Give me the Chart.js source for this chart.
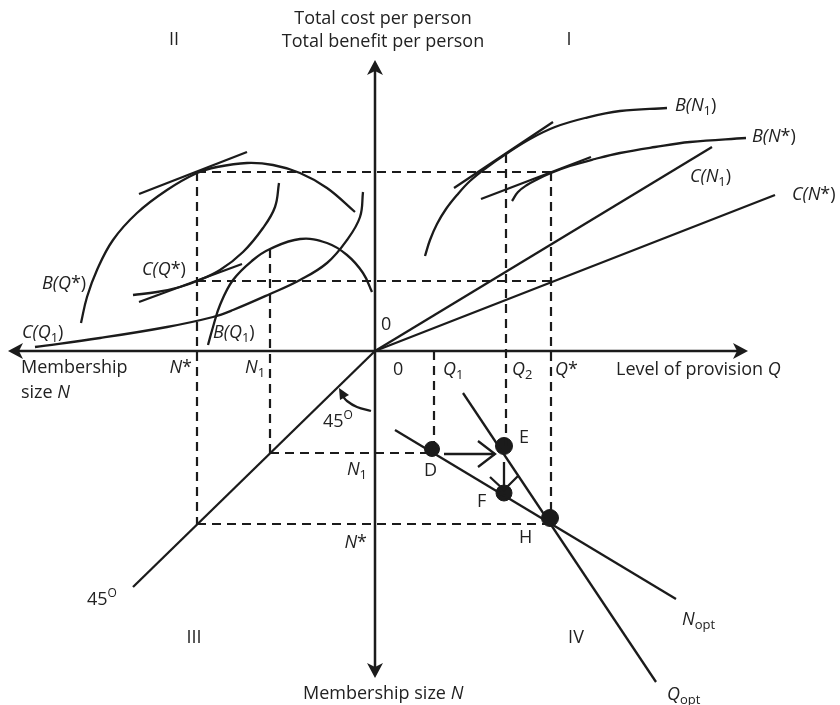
<!DOCTYPE html>
<html>
<head>
<meta charset="utf-8">
<script src="https://cdn.jsdelivr.net/npm/chart.js@4/dist/chart.umd.min.js"></script>
<style>
  html, body { margin: 0; padding: 0; background: #ffffff; }
  #wrap { width: 840px; height: 705px; }
</style>
</head>
<body>
<div id="wrap"><canvas id="club" width="840" height="705"></canvas></div>
<script>
// Four-quadrant club-good diagram (diagram units, origin where the axes cross).
// Quadrant I:  level of provision Q (right) vs total cost / benefit per person (up)
// Quadrant II: membership size N (left) vs total cost / benefit per person (up)
// Quadrant III: 45-degree line carrying N down to the lower vertical axis
// Quadrant IV: level of provision Q (right) vs membership size N (down)

// Reference levels on the axes
const qTicks = { Q1: 59, Q2: 131, Qstar: 176 };
const nTicks = { N1: 105, Nstar: 178 };
const nDownTicks = { N1: 102, Nstar: 173 };
const benefitLevel = 179;   // total benefit per person at the optimum
const costLevel = 70;       // total cost per person at the optimum

// Quadrant I: benefit curves B(N) against Q
const benefitN1 = [[50,95],[55,111],[62,127],[71,142],[82,156],[95,170],[111,183],[131,197],[155,212],[180,224],[210,233],[245,240],[292,243]];
const benefitNstar = [[137,150],[143,159],[152,166],[163,172],[176,178],[195,185],[220,192],[245,198],[280,204],[315,209],[371,213]];
const tangentN1 = [[79,163],[178,229]];
const tangentNstar = [[106,152],[216,194]];
// Quadrant I: cost lines C(N) against Q
const costN1 = [[0,0],[337,204]];
const costNstar = [[0,0],[400,156]];

// Quadrant II: benefit and cost curves against membership size (N runs left)
const benefitQstar = [[-294,28],[-288,54],[-278,81],[-262,111],[-238,138],[-208,161],[-178,178],[-158,184],[-128,188],[-102,186],[-75,178],[-48,163],[-20,139]];
const tangentBQstar = [[-236,157],[-128,199]];
const costQstar = [[-242,56],[-218,59],[-195,64],[-178,70],[-155,81],[-132,99],[-112,123],[-100,144],[-96,168]];
const tangentCQstar = [[-236,49],[-133,87]];
const costQ1 = [[-340,4],[-275,13],[-208,24],[-162,34],[-142,41],[-105,57],[-75,71],[-48,88],[-28,111],[-15,134],[-12,159]];
const benefitQ1 = [[-167,6],[-162,24],[-155,46],[-142,71],[-122,91],[-105,102],[-75,112],[-48,108],[-28,96],[-12,78],[-3,59]];

// Quadrant III: 45-degree transfer line
const line45 = [[0,0],[-242,-236]];

// Quadrant IV: optimal-membership and optimal-provision schedules
const nOpt = [[20,-79],[301,-248]];
const qOpt = [[88,-42],[281,-331]];

// Adjustment path D -> E -> F -> H
const pathLabels = ['D','E','F','H'];
const pathPoints = [[57,-98],[129,-95],[129,-142],[175,-167]];
const pathDotSize = [7.5, 8.5, 8, 8.5];

// Axis extents
const xAxis = [[-360,0],[366,0]];
const yAxis = [[0,284],[0,-320]];

const INK = '#1b1b1b';
const toXY = a => a.map(p => ({ x: p[0], y: p[1] }));

function solid(data, width, tension) {
  return { data: toXY(data), showLine: true, borderColor: INK, borderWidth: width || 2.3,
           pointRadius: 0, tension: tension || 0, fill: false };
}
function dashed(data) {
  return { data: toXY(data), showLine: true, borderColor: INK, borderWidth: 2.2,
           borderDash: [9, 6], pointRadius: 0, tension: 0, fill: false };
}

const Q1 = qTicks.Q1, Q2 = qTicks.Q2, QS = qTicks.Qstar;
const N1 = nTicks.N1, NS = nTicks.Nstar;
const D1 = nDownTicks.N1, DS = nDownTicks.Nstar;
const [pD, pE, pF, pH] = pathPoints;

const datasets = [
  // axes
  solid(xAxis, 2.5), solid(yAxis, 2.5),
  // guide lines
  dashed([[-NS, benefitLevel],[QS, benefitLevel]]),
  dashed([[-NS, costLevel],[QS, costLevel]]),
  dashed([[-NS, benefitLevel],[-NS, -DS]]),
  dashed([[-NS, -DS],[pH[0], -DS]]),
  dashed([[QS, benefitLevel],[QS, pH[1]]]),
  dashed([[-N1, 102],[-N1, -D1]]),
  dashed([[-N1, -D1],[pD[0], -D1]]),
  dashed([[Q1, 0],[Q1, pD[1]]]),
  dashed([[Q2, 197],[Q2, pE[1]]]),
  // quadrant I
  solid(benefitN1, 2.3, 0.4), solid(benefitNstar, 2.3, 0.4),
  solid(tangentN1), solid(tangentNstar),
  solid(costN1), solid(costNstar),
  // quadrant II
  solid(benefitQstar, 2.3, 0.4), solid(tangentBQstar),
  solid(costQstar, 2.3, 0.4), solid(tangentCQstar),
  solid(costQ1, 2.3, 0.4), solid(benefitQ1, 2.3, 0.4),
  // quadrant III
  solid(line45),
  // quadrant IV
  solid(nOpt), solid(qOpt),
  // adjustment arrows
  solid([[pD[0]+12, -103],[pE[0]-9, -103]]),
  solid([[pE[0]-26, -90],[pE[0]-9, -103],[pE[0]-26, -116]]),
  solid([[pE[0], pE[1]-16],[pE[0], pF[1]+3]]),
  solid([[pE[0]-14, -126],[pE[0], pF[1]+3],[pE[0]+14, -125]]),
  // curved 45-degree marker
  solid([[-4,-60],[-18,-56],[-28,-50],[-33,-44]], 2.3, 0.4),
  // points on the adjustment path
  { data: toXY(pathPoints), showLine: false,
    pointRadius: c => pathDotSize[c.dataIndex], pointHoverRadius: c => pathDotSize[c.dataIndex],
    pointStyle: 'circle', pointBackgroundColor: INK, pointBorderColor: INK, pointBorderWidth: 1 }
];

// Text annotations: position in diagram units, alignment, rich text parts
const FAMILY = '"Open Sans", Lato, sans-serif';
const it = t => ({ t, i: true });
const up = t => ({ t });
const sub = t => ({ t, sub: true });
const sup = t => ({ t, sup: true });
const annotations = [
  { x: 8, y: 332, a: 'center', p: [up('Total cost per person')] },
  { x: 8, y: 309, a: 'center', p: [up('Total benefit per person')] },
  { x: -201, y: 311, a: 'center', p: [up('II')] },
  { x: 194, y: 311, a: 'center', p: [up('I')] },
  { x: -181, y: -287, a: 'center', p: [up('III')] },
  { x: 201, y: -287, a: 'center', p: [up('IV')] },
  { x: 300, y: 245, a: 'left', p: [it('B(N'), sub('1'), up(')')] },
  { x: 377, y: 214, a: 'left', p: [it('B(N'), up('*)')] },
  { x: 315, y: 174, a: 'left', p: [it('C(N'), sub('1'), up(')')] },
  { x: 417, y: 156, a: 'left', p: [it('C(N'), up('*)')] },
  { x: -333, y: 67, a: 'left', p: [it('B(Q'), up('*)')] },
  { x: -233, y: 81, a: 'left', p: [it('C(Q'), up('*)')] },
  { x: -353, y: 18, a: 'left', p: [it('C(Q'), sub('1'), up(')')] },
  { x: -162, y: 18, a: 'left', p: [it('B(Q'), sub('1'), up(')')] },
  { x: 6, y: 26, a: 'left', p: [up('0')] },
  { x: 18, y: -19, a: 'left', p: [up('0')] },
  { x: -354, y: -17, a: 'left', p: [up('Membership')] },
  { x: -354, y: -42, a: 'left', p: [up('size '), it('N')] },
  { x: -183, y: -17, a: 'right', p: [it('N'), up('*')] },
  { x: -130, y: -17, a: 'left', p: [it('N'), sub('1')] },
  { x: 68, y: -19, a: 'left', p: [it('Q'), sub('1')] },
  { x: 137, y: -19, a: 'left', p: [it('Q'), sub('2')] },
  { x: 180, y: -19, a: 'left', p: [it('Q'), up('*')] },
  { x: 241, y: -19, a: 'left', p: [up('Level of provision '), it('Q')] },
  { x: -52, y: -71, a: 'left', p: [up('45'), sup('O')] },
  { x: -288, y: -249, a: 'left', p: [up('45'), sup('O')] },
  { x: 49, y: -120, a: 'left', p: [up(pathLabels[0])] },
  { x: 144, y: -87, a: 'left', p: [up(pathLabels[1])] },
  { x: 102, y: -151, a: 'left', p: [up(pathLabels[2])] },
  { x: 144, y: -187, a: 'left', p: [up(pathLabels[3])] },
  { x: -8, y: -119, a: 'right', p: [it('N'), sub('1')] },
  { x: -8, y: -192, a: 'right', p: [it('N'), up('*')] },
  { x: 307, y: -269, a: 'left', p: [it('N'), sub('opt')] },
  { x: 292, y: -344, a: 'left', p: [it('Q'), sub('opt')] },
  { x: -72, y: -343, a: 'left', p: [up('Membership size '), it('N')] }
];

function fontFor(part) {
  const size = part.sub ? 13 : part.sup ? 12 : 18;
  return (part.i ? 'italic ' : '') + size + 'px ' + FAMILY;
}

const decorations = {
  id: 'decorations',
  afterDatasetsDraw(chart) {
    const ctx = chart.ctx;
    const sx = chart.scales.x, sy = chart.scales.y;
    const px = v => sx.getPixelForValue(v), py = v => sy.getPixelForValue(v);
    ctx.save();
    ctx.fillStyle = INK;

    // notched arrowheads at the axis ends
    function head(tx, ty, dx, dy) {
      const L = 15, W = 8, notch = 4;
      const nx = -dy, ny = dx;
      ctx.beginPath();
      ctx.moveTo(tx, ty);
      ctx.lineTo(tx - dx * L + nx * W, ty - dy * L + ny * W);
      ctx.lineTo(tx - dx * (L - notch), ty - dy * (L - notch));
      ctx.lineTo(tx - dx * L - nx * W, ty - dy * L - ny * W);
      ctx.closePath();
      ctx.fill();
    }
    head(px(373), py(0), 1, 0);
    head(px(-367), py(0), -1, 0);
    head(px(0), py(291), 0, -1);
    head(px(0), py(-327), 0, 1);

    // solid head on the curved 45-degree marker
    ctx.beginPath();
    ctx.moveTo(px(-36), py(-37));
    ctx.lineTo(px(-26), py(-44));
    ctx.lineTo(px(-35), py(-49));
    ctx.closePath();
    ctx.fill();

    // labels
    ctx.fillStyle = '#222222';
    ctx.textBaseline = 'middle';
    annotations.forEach(an => {
      let w = 0;
      an.p.forEach(part => { ctx.font = fontFor(part); w += ctx.measureText(part.t).width; });
      let cx = px(an.x);
      if (an.a === 'center') cx -= w / 2;
      else if (an.a === 'right') cx -= w;
      const cy = py(an.y);
      an.p.forEach(part => {
        ctx.font = fontFor(part);
        const dy = part.sub ? 5 : part.sup ? -6 : 0;
        ctx.textAlign = 'left';
        ctx.fillText(part.t, cx, cy + dy);
        cx += ctx.measureText(part.t).width;
      });
    });
    ctx.restore();
  }
};

new Chart(document.getElementById('club'), {
  type: 'scatter',
  data: { datasets },
  options: {
    responsive: false,
    animation: false,
    devicePixelRatio: 1,
    layout: { padding: 0, autoPadding: false },
    plugins: { legend: { display: false }, tooltip: { enabled: false } },
    scales: {
      x: { type: 'linear', min: -375, max: 465, display: false },
      y: { type: 'linear', min: -354, max: 351, display: false }
    },
    elements: { line: { borderCapStyle: 'butt' } }
  },
  plugins: [decorations]
});
</script>
</body>
</html>
